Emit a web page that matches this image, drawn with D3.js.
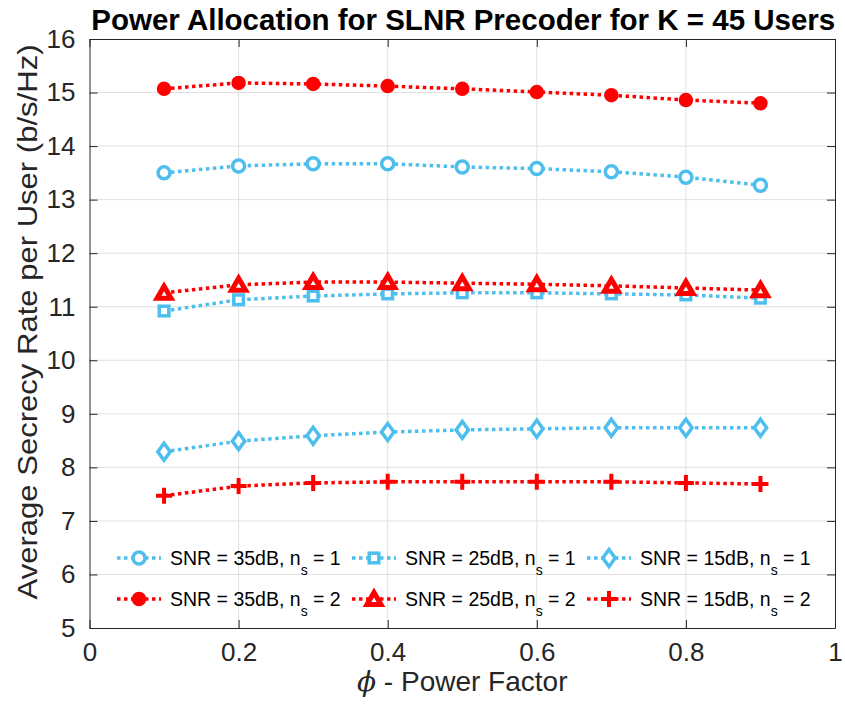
<!DOCTYPE html>
<html>
<head>
<meta charset="utf-8">
<script src="https://cdn.jsdelivr.net/npm/d3@7"></script>
<style>
  html, body { margin: 0; padding: 0; background: #fff; }
  svg { display: block; font-family: "Liberation Sans", Arial, Helvetica, sans-serif; }
</style>
</head>
<body>
<svg id="chart" width="845" height="711"></svg>
<script>
// Power factor values (x axis)
const phi = [0.1, 0.2, 0.3, 0.4, 0.5, 0.6, 0.7, 0.8, 0.9];

// Average secrecy rate per user (b/s/Hz)
const snr35ns1 = [13.50, 13.63, 13.67, 13.67, 13.61, 13.58, 13.52, 13.42, 13.27];
const snr25ns1 = [10.92, 11.13, 11.20, 11.24, 11.26, 11.26, 11.24, 11.22, 11.16];
const snr15ns1 = [8.29, 8.49, 8.59, 8.66, 8.70, 8.72, 8.74, 8.74, 8.74];
const snr35ns2 = [15.07, 15.18, 15.16, 15.12, 15.07, 15.01, 14.95, 14.86, 14.80];
const snr25ns2 = [11.26, 11.41, 11.46, 11.46, 11.44, 11.42, 11.39, 11.35, 11.31];
const snr15ns2 = [7.47, 7.65, 7.71, 7.73, 7.73, 7.73, 7.73, 7.71, 7.69];

const xTicks = [0, 0.2, 0.4, 0.6, 0.8, 1];
const yTicks = [5, 6, 7, 8, 9, 10, 11, 12, 13, 14, 15, 16];

const seriesSnr = ["35dB", "25dB", "15dB", "35dB", "25dB", "15dB"];
const seriesNs = [1, 1, 1, 2, 2, 2];

const BLUE = "#4DBEEE", RED = "#FF0000";

const series = [
  { values: snr35ns1, color: BLUE, marker: "circle", filled: false },
  { values: snr25ns1, color: BLUE, marker: "square", filled: false },
  { values: snr15ns1, color: BLUE, marker: "diamond", filled: false },
  { values: snr35ns2, color: RED, marker: "circle", filled: true },
  { values: snr25ns2, color: RED, marker: "triangle", filled: false },
  { values: snr15ns2, color: RED, marker: "plus", filled: false }
].map((s, i) => ({ ...s, snr: seriesSnr[i], ns: seriesNs[i] }));

const svg = d3.select("#chart");
const x = d3.scaleLinear().domain([0, 1]).range([89.5, 835]);
const y = d3.scaleLinear().domain([5, 16]).range([628, 39]);

const AXIS = "#262626";
const GRID = "#e0e0e0";

// grid
const g = svg.append("g");
g.selectAll("line.gx").data(xTicks.slice(1, -1)).join("line")
  .attr("x1", d => x(d)).attr("x2", d => x(d))
  .attr("y1", y(5)).attr("y2", y(16))
  .attr("stroke", GRID).attr("stroke-width", 1);
g.selectAll("line.gy").data(yTicks.slice(1, -1)).join("line")
  .attr("y1", d => y(d)).attr("y2", d => y(d))
  .attr("x1", x(0)).attr("x2", x(1))
  .attr("stroke", GRID).attr("stroke-width", 1);

// axes (ticks inside, mirrored on top/right)
const tickLen = 8;
const axB = d3.axisBottom(x).tickValues(xTicks).tickSizeInner(-tickLen).tickSizeOuter(0)
  .tickPadding(15).tickFormat(d3.format("~g"));
const axL = d3.axisLeft(y).tickValues(yTicks).tickSizeInner(-tickLen).tickSizeOuter(0)
  .tickPadding(14).tickFormat(d3.format("~g"));
const axT = d3.axisTop(x).tickValues(xTicks).tickSizeInner(-tickLen).tickSizeOuter(0).tickFormat("");
const axR = d3.axisRight(y).tickValues(yTicks).tickSizeInner(-tickLen).tickSizeOuter(0).tickFormat("");

function styleAxis(sel) {
  sel.select(".domain").attr("stroke", AXIS).attr("stroke-width", 1);
  sel.selectAll(".tick line").attr("stroke", AXIS).attr("stroke-width", 1);
  sel.selectAll(".tick text").attr("fill", AXIS).style("font-size", "26px")
    .style("font-family", "'Liberation Sans', Arial, sans-serif");
}
svg.append("g").attr("transform", `translate(0,${y(5)})`).call(axB).call(styleAxis);
svg.append("g").attr("transform", `translate(${x(0)},0)`).call(axL).call(styleAxis);
svg.append("g").attr("transform", `translate(0,${y(16)})`).call(axT).call(styleAxis);
svg.append("g").attr("transform", `translate(${x(1)},0)`).call(axR).call(styleAxis);

// marker drawing
function drawMarker(sel, type, color, filled) {
  if (type === "circle") {
    sel.append("circle").attr("r", filled ? 6.5 : 6)
      .attr("fill", filled ? color : "#fff").attr("stroke", color).attr("stroke-width", filled ? 1.5 : 3.5);
  } else if (type === "square") {
    sel.append("rect").attr("x", -4.8).attr("y", -4.8).attr("width", 9.6).attr("height", 9.6)
      .attr("fill", "#fff").attr("stroke", color).attr("stroke-width", 3.5);
  } else if (type === "diamond") {
    sel.append("path").attr("d", "M0,-8.5L6.2,0L0,8.5L-6.2,0Z")
      .attr("fill", "#fff").attr("stroke", color).attr("stroke-width", 3.5).attr("stroke-linejoin", "miter");
  } else if (type === "triangle") {
    sel.append("path").attr("d", "M0,-6.5L7,5.5L-7,5.5Z")
      .attr("fill", "#fff").attr("stroke", color).attr("stroke-width", 5).attr("stroke-linejoin", "miter");
  } else if (type === "plus") {
    sel.append("path").attr("d", "M-8,0H8M0,-8V8")
      .attr("fill", "none").attr("stroke", color).attr("stroke-width", 4);
  }
}

const line = d3.line().x((d, i) => x(phi[i])).y(d => y(d));
const plot = svg.append("g");
series.forEach(s => {
  plot.append("path").datum(s.values)
    .attr("d", line).attr("fill", "none")
    .attr("stroke", s.color).attr("stroke-width", 3.5)
    .attr("stroke-dasharray", "3.5,3.5");
  plot.append("g").selectAll("g").data(s.values).join("g")
    .attr("transform", (d, i) => `translate(${x(phi[i])},${y(d)})`)
    .each(function () { drawMarker(d3.select(this), s.marker, s.color, s.filled); });
});

// legend: 3 columns x 2 rows
const colX = [117, 352, 587];
const rowY = [558, 599];
series.forEach((s, i) => {
  const cx = colX[i % 3], cy = rowY[Math.floor(i / 3)];
  const lg = svg.append("g").attr("transform", `translate(${cx},${cy})`);
  lg.append("line").attr("x1", 0).attr("x2", 44).attr("y1", 0).attr("y2", 0)
    .attr("stroke", s.color).attr("stroke-width", 3.5).attr("stroke-dasharray", "3.5,3.5");
  drawMarker(lg.append("g").attr("transform", "translate(22,0)"), s.marker, s.color, s.filled);
  const t = lg.append("text").attr("x", 53).attr("y", 7).attr("fill", "#000")
    .style("font-size", "19.5px");
  t.append("tspan").text(`SNR = ${s.snr}, n`);
  t.append("tspan").attr("dy", 10).style("font-size", "14px").text("s");
  t.append("tspan").attr("dy", -10).text(` = ${s.ns}`);
});

// title and axis labels
svg.append("text").attr("x", (x(0) + x(1)) / 2 + 1).attr("y", 30)
  .attr("text-anchor", "middle").attr("fill", "#000")
  .style("font-size", "29.5px").style("font-weight", "bold")
  .text("Power Allocation for SLNR Precoder for K = 45 Users");

const xl = svg.append("text").attr("x", (x(0) + x(1)) / 2).attr("y", 691)
  .attr("text-anchor", "middle").attr("fill", AXIS).style("font-size", "28px");
xl.append("tspan").style("font-style", "italic").style("font-family", "'DejaVu Serif', 'Liberation Serif', serif").text("ϕ");
xl.append("tspan").text(" - Power Factor");

svg.append("text")
  .attr("transform", `translate(37,322) rotate(-90)`)
  .attr("text-anchor", "middle").attr("fill", AXIS).style("font-size", "28.5px")
  .attr("textLength", 555).attr("lengthAdjust", "spacingAndGlyphs")
  .text("Average Secrecy Rate per User (b/s/Hz)");
</script>
</body>
</html>
